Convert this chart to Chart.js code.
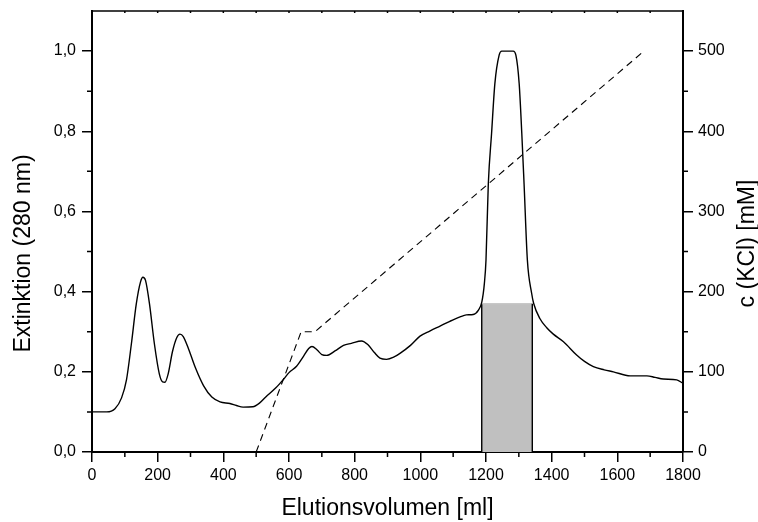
<!DOCTYPE html>
<html>
<head>
<meta charset="utf-8">
<title>Elutionsprofil</title>
<script src="https://cdn.jsdelivr.net/npm/chart.js@4.4.1/dist/chart.umd.min.js"></script>
<style>
  html, body { margin: 0; padding: 0; background: #fff; }
  #wrap { position: relative; width: 758px; height: 522px; }
</style>
</head>
<body>
<div id="wrap"><canvas id="elution"></canvas></div>
<script>
// --- data ---
var volumeMl = [0, 45, 70, 90, 105, 120, 135, 148, 155, 163, 175, 190, 205, 215, 222, 232, 245, 258, 268, 278,
  295, 315, 340, 365, 390, 420, 440, 460, 490, 510, 530, 560, 583, 600, 623, 645, 660, 670, 685, 700,
  715, 740, 766, 790, 821, 840, 860, 877, 897, 920, 938, 970, 999, 1030, 1060, 1090, 1121, 1140, 1161, 1177,
  1187, 1195, 1200, 1207, 1217, 1227, 1240, 1248, 1283, 1291, 1301, 1309, 1316, 1326, 1339, 1345, 1364, 1385, 1405, 1436,
  1476, 1500, 1527, 1560, 1588, 1639, 1690, 1715, 1740, 1781, 1800];
var extinction = [0.100, 0.100, 0.108, 0.135, 0.180, 0.270, 0.370, 0.425, 0.436, 0.428, 0.370, 0.270, 0.195, 0.175, 0.174, 0.195, 0.250, 0.285, 0.294, 0.288,
  0.255, 0.210, 0.165, 0.137, 0.125, 0.121, 0.116, 0.112, 0.113, 0.122, 0.138, 0.160, 0.181, 0.198, 0.214, 0.240, 0.258, 0.263, 0.255, 0.243,
  0.241, 0.252, 0.266, 0.271, 0.277, 0.268, 0.248, 0.234, 0.231, 0.237, 0.246, 0.266, 0.289, 0.302, 0.314, 0.326, 0.337, 0.342, 0.343, 0.354,
  0.373, 0.420, 0.479, 0.668, 0.795, 0.919, 0.990, 1.000, 1.000, 0.990, 0.919, 0.795, 0.668, 0.479, 0.396, 0.371, 0.333, 0.310, 0.294, 0.275,
  0.242, 0.226, 0.213, 0.205, 0.200, 0.190, 0.190, 0.186, 0.182, 0.180, 0.171];

// KCl gradient (dashed, right axis)
var gradientMl = [500, 637, 679, 1681];
var gradientKcl = [0, 150, 150, 500];

// pooled fraction (grey box)
var poolMl = [1187, 1187, 1341, 1341];
var poolExt = [0, 0.37, 0.37, 0];

// tick labels
var xTicks = [0, 200, 400, 600, 800, 1000, 1200, 1400, 1600, 1800];
var leftTicks = [0, 0.2, 0.4, 0.6, 0.8, 1.0];
var rightTicks = [0, 100, 200, 300, 400, 500];

var xTitle = 'Elutionsvolumen [ml]';
var leftTitle = 'Extinktion (280 nm)';
var rightTitle = 'c (KCl) [mM]';

var FONT = '"Liberation Sans", Arial, sans-serif';

function toPoints(xs, ys) {
  return xs.map(function(x, i) { return { x: x, y: ys[i] }; });
}
function fixedTicks(values) {
  return function(scale) { scale.ticks = values.map(function(v) { return { value: v }; }); };
}

// minor ticks, top frame line and the two y titles
var frameExtras = {
  id: 'frameExtras',
  afterDraw: function(chart) {
    var ctx = chart.ctx, a = chart.chartArea, s = chart.scales;
    ctx.save();
    ctx.strokeStyle = '#000';
    ctx.lineWidth = 1.5;
    ctx.beginPath();
    ctx.moveTo(a.left - 1, a.top);
    ctx.lineTo(a.right + 1, a.top);
    ctx.stroke();

    function mids(scale) {
      var t = scale.ticks, out = [];
      for (var i = 0; i < t.length - 1; i++) out.push((t[i].value + t[i + 1].value) / 2);
      return out;
    }
    ctx.beginPath();
    mids(s.x).forEach(function(v) {
      var px = s.x.getPixelForValue(v);
      ctx.moveTo(px, a.bottom); ctx.lineTo(px, a.bottom + 5);
    });
    s.x.ticks.concat(mids(s.x).map(function(v) { return { value: v }; })).forEach(function(t) {
      var px = s.x.getPixelForValue(t.value);
      ctx.moveTo(px, a.top); ctx.lineTo(px, a.top + 2);
    });
    mids(s.y).concat([0.9]).forEach(function(v) {
      var py = s.y.getPixelForValue(v);
      ctx.moveTo(a.left, py); ctx.lineTo(a.left - 5, py);
    });
    mids(s.y2).concat([450]).forEach(function(v) {
      var py = s.y2.getPixelForValue(v);
      ctx.moveTo(a.right, py); ctx.lineTo(a.right + 5, py);
    });
    ctx.stroke();

    ctx.fillStyle = '#000';
    ctx.font = '23px ' + FONT;
    ctx.textAlign = 'center';
    ctx.textBaseline = 'middle';
    var midY = (a.top + a.bottom) / 2;
    ctx.save();
    ctx.translate(24, midY + 22);
    ctx.rotate(-Math.PI / 2);
    ctx.fillText(leftTitle, 0, 0);
    ctx.restore();
    ctx.save();
    ctx.translate(748, midY + 12);
    ctx.rotate(-Math.PI / 2);
    ctx.fillText(rightTitle, 0, 0);
    ctx.restore();
    ctx.restore();
  }
};

var axisGrid = { display: true, drawOnChartArea: false, drawTicks: true, tickLength: 10, color: '#000', lineWidth: 1.5 };
var axisBorder = { display: true, color: '#000', width: 2 };
var tickFont = { family: FONT, size: 16 };

new Chart(document.getElementById('elution').getContext('2d'), {
  type: 'line',
  data: {
    datasets: [
      {
        label: 'Extinktion',
        data: toPoints(volumeMl, extinction),
        yAxisID: 'y',
        borderColor: '#000',
        borderWidth: 1.4,
        pointRadius: 0,
        fill: false,
        cubicInterpolationMode: 'monotone',
        order: 1
      },
      {
        label: 'KCl',
        data: toPoints(gradientMl, gradientKcl),
        yAxisID: 'y2',
        borderColor: '#000',
        borderWidth: 1.1,
        borderDash: [7, 5],
        pointRadius: 0,
        fill: false,
        tension: 0,
        order: 2
      },
      {
        label: 'Pool',
        data: toPoints(poolMl, poolExt),
        yAxisID: 'y',
        borderColor: '#000',
        borderWidth: 1.4,
        backgroundColor: '#c0c0c0',
        pointRadius: 0,
        fill: 'origin',
        tension: 0,
        segment: {
          borderColor: function(c) { return c.p0DataIndex === 1 ? '#c8c8c8' : '#000'; }
        },
        order: 3
      }
    ]
  },
  options: {
    responsive: true,
    maintainAspectRatio: false,
    animation: false,
    devicePixelRatio: 1,
    layout: { padding: { top: 11, left: 0, right: 0, bottom: 0 } },
    plugins: { legend: { display: false }, tooltip: { enabled: false } },
    scales: {
      x: {
        type: 'linear',
        min: 0, max: 1800,
        afterBuildTicks: fixedTicks(xTicks),
        afterFit: function(scale) { scale.height = 70; scale.paddingLeft = 0; scale.paddingRight = 0; },
        grid: axisGrid,
        border: axisBorder,
        ticks: {
          color: '#000', font: tickFont, padding: 4, maxRotation: 0, autoSkip: false,
          callback: function(v) { return String(v); }
        },
        title: { display: true, text: xTitle, color: '#000', font: { family: FONT, size: 23, lineHeight: 1 }, padding: { top: 0, bottom: 2 } }
      },
      y: {
        position: 'left',
        min: 0, max: 1.1,
        afterBuildTicks: fixedTicks(leftTicks),
        afterFit: function(scale) { scale.width = 92; scale.paddingTop = 0; scale.paddingBottom = 0; },
        grid: axisGrid,
        border: axisBorder,
        ticks: {
          color: '#000', font: tickFont, padding: 6,
          callback: function(v) { return v.toFixed(1).replace('.', ','); }
        }
      },
      y2: {
        position: 'right',
        min: 0, max: 550,
        afterBuildTicks: fixedTicks(rightTicks),
        afterFit: function(scale) { scale.width = 75; scale.paddingTop = 0; scale.paddingBottom = 0; },
        grid: axisGrid,
        border: axisBorder,
        ticks: { color: '#000', font: tickFont, padding: 5 }
      }
    }
  },
  plugins: [frameExtras]
});
</script>
</body>
</html>
